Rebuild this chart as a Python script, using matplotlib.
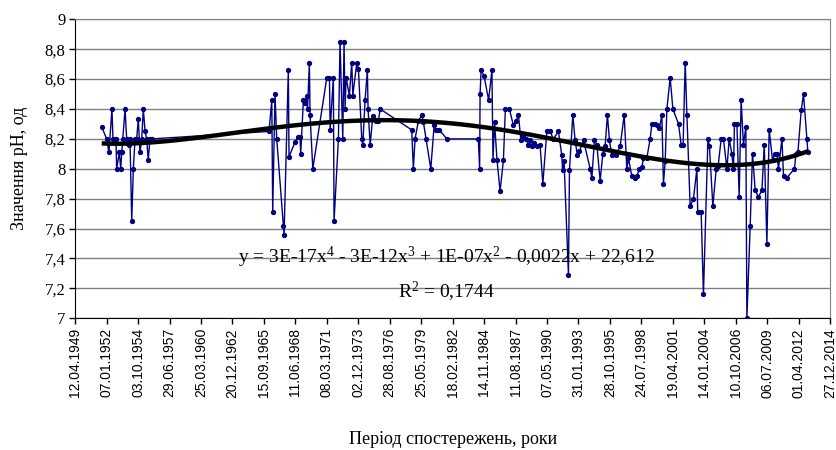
import numpy as np
import matplotlib
matplotlib.use('Agg')
import matplotlib.pyplot as plt
import matplotlib.dates as mdates
from datetime import datetime, timedelta

obs_year = [
    1951.59, 1952.02, 1952.22, 1952.48, 1952.57, 1952.83, 1952.89, 1953.12, 1953.24, 1953.33,
    1953.42, 1953.62, 1953.76, 1953.99, 1954.05, 1954.20, 1954.34, 1954.49, 1954.63, 1954.77,
    1954.92, 1955.07, 1955.21, 1955.36, 1955.50, 1955.64, 1955.79, 1955.94,
    1966.15, 1966.39, 1966.47, 1966.67, 1966.82, 1967.40, 1967.46, 1967.83, 1967.89, 1968.42,
    1968.68, 1968.85, 1968.91, 1969.14, 1969.29, 1969.43, 1969.50, 1969.66, 1969.72, 1969.96,
    1971.18, 1971.41, 1971.47, 1971.75, 1971.81, 1972.19, 1972.33, 1972.57, 1972.68, 1972.77,
    1972.86, 1973.14, 1973.35, 1973.44, 1973.79, 1973.93, 1974.22, 1974.31, 1974.51, 1974.71,
    1974.77, 1974.95, 1975.18, 1975.47, 1975.67, 1975.82,
    1978.57, 1978.71, 1978.86, 1979.15, 1979.45, 1979.59, 1979.82, 1980.23, 1980.52, 1980.69,
    1980.98, 1981.62, 1984.37, 1984.48, 1984.52, 1984.61, 1984.87, 1985.26, 1985.55, 1985.64,
    1985.78, 1985.99, 1986.26, 1986.55, 1986.72,
    1987.07, 1987.42, 1987.66, 1987.86, 1988.07, 1988.29, 1988.53, 1988.73, 1988.87, 1989.02,
    1989.22, 1989.46, 1989.74, 1989.98, 1990.33, 1990.61, 1990.90, 1991.34, 1991.63, 1991.70,
    1991.83, 1992.21, 1992.30, 1992.59, 1992.79, 1992.99, 1993.17, 1993.52, 1994.10, 1994.25,
    1994.47, 1994.68, 1994.97, 1995.20, 1995.40, 1995.60, 1995.78, 1995.99, 1996.36, 1996.71,
    1997.06,
    1997.29, 1997.43, 1997.73, 1998.02, 1998.16, 1998.39, 1998.60, 1998.74, 1999.03, 1999.32,
    1999.47, 1999.76, 1999.91, 2000.13, 2000.34, 2000.48, 2000.63, 2000.78, 2001.06, 2001.30,
    2001.79, 2002.02, 2002.19, 2002.37, 2002.52, 2002.80, 2003.09, 2003.39, 2003.46, 2003.76,
    2003.96, 2004.35, 2004.48, 2004.78, 2005.07, 2005.24, 2005.50,
    2005.70, 2006.00, 2006.20, 2006.43, 2006.57, 2006.66, 2006.87, 2007.07, 2007.24, 2007.44,
    2007.65, 2007.74, 2008.03, 2008.23, 2008.46, 2008.75, 2009.05, 2009.25, 2009.48, 2009.68,
    2009.97, 2010.20, 2010.35, 2010.49, 2010.79, 2010.93, 2011.22, 2011.88, 2012.01, 2012.18,
    2012.47, 2012.67, 2012.96, 2013.05,
]
obs_ph = [
    8.28, 8.20, 8.11, 8.40, 8.20, 8.20, 8.00, 8.11, 8.00, 8.11,
    8.20, 8.40, 8.20, 8.16, 8.20, 7.65, 8.00, 8.20, 8.20, 8.33,
    8.11, 8.20, 8.40, 8.25, 8.20, 8.06, 8.20, 8.20,
    8.25, 8.46, 7.71, 8.50, 8.20, 7.62, 7.56, 8.66, 8.08, 8.18,
    8.21, 8.21, 8.10, 8.46, 8.44, 8.49, 8.40, 8.71, 8.36, 8.00,
    8.61, 8.61, 8.26, 8.61, 7.65, 8.20, 8.85, 8.20, 8.85, 8.40,
    8.61, 8.49, 8.71, 8.49, 8.71, 8.67, 8.20, 8.16, 8.46, 8.66,
    8.40, 8.16, 8.35, 8.32, 8.32, 8.40,
    8.26, 8.00, 8.20, 8.32, 8.36, 8.31, 8.20, 8.00, 8.29, 8.26,
    8.26, 8.20, 8.20, 8.00, 8.50, 8.66, 8.62, 8.46, 8.66, 8.06,
    8.31, 8.06, 7.85, 8.06, 8.40,
    8.40, 8.29, 8.32, 8.36, 8.19, 8.22, 8.20, 8.16, 8.19, 8.15,
    8.17, 8.15, 8.16, 7.90, 8.25, 8.25, 8.20, 8.25, 8.09, 7.99,
    8.05, 7.29, 7.99, 8.36, 8.19, 8.09, 8.12, 8.19, 8.00, 7.94,
    8.19, 8.16, 7.92, 8.10, 8.15, 8.36, 8.19, 8.09, 8.09, 8.15,
    8.36,
    8.00, 8.07, 7.95, 7.94, 7.95, 8.00, 8.01, 8.07, 8.07, 8.20,
    8.30, 8.30, 8.29, 8.27, 8.36, 7.90, 8.05, 8.40, 8.61, 8.40,
    8.30, 8.16, 8.16, 8.71, 8.36, 7.75, 7.80, 8.00, 7.71, 7.71,
    7.16, 8.20, 8.15, 7.75, 8.00, 8.02, 8.20,
    8.20, 8.00, 8.20, 8.10, 8.00, 8.30, 8.30, 7.81, 8.46, 8.16,
    8.28, 7.00, 7.62, 8.10, 7.86, 7.81, 7.86, 8.16, 7.50, 8.26,
    8.06, 8.10, 8.10, 8.00, 8.20, 7.95, 7.94, 8.00, 8.10, 8.11,
    8.39, 8.50, 8.20, 8.11,
]

# Polynomial trend line
trend_year = [1951.6, 1954.0, 1956.8, 1963.6, 1965.4, 1969.4, 1973.2, 1977.6, 1979.7,
              1984.5, 1989.1, 1993.2, 1997.3, 2001.9, 2007.2, 2010.9, 2013.1]
trend_ph = [8.17, 8.165, 8.19, 8.24, 8.265, 8.29, 8.32, 8.33, 8.33,
            8.28, 8.21, 8.17, 8.10, 8.04, 8.025, 8.08, 8.11]

equation = 'y = 3E-17x$^{4}$ - 3E-12x$^{3}$ + 1E-07x$^{2}$ - 0,0022x + 22,612'
r2_text = 'R$^{2}$ = 0,1744'


def to_date(y):
    yr = int(y)
    return datetime(yr, 1, 1) + timedelta(days=(y - yr) * 365.25)


plt.rcParams['font.family'] = 'Liberation Serif'
plt.rcParams['mathtext.fontset'] = 'custom'
plt.rcParams['mathtext.rm'] = 'Liberation Serif'
plt.rcParams['mathtext.default'] = 'rm'

fig = plt.figure(figsize=(8.37, 4.5), dpi=100)
ax = fig.add_axes([0.0898, 0.2927, 0.9020, 0.6644])

obs_dates = [to_date(y) for y in obs_year]
ax.plot(obs_dates, obs_ph, color='#000080', lw=1.0, marker='o', ms=2.8,
        mfc='#000080', mec='#000080', zorder=3)

# smooth 4th degree polynomial through the trend readings
coef = np.polyfit(trend_year, trend_ph, 4)
ty = np.linspace(obs_year[0], obs_year[-1], 300)
ax.plot([to_date(y) for y in ty], np.polyval(coef, ty), color='black', lw=3.2, zorder=4,
        solid_capstyle='butt')

# axes
start = datetime(1949, 4, 12)
ticks = [start + timedelta(days=1000 * i) for i in range(25)]
ax.set_xlim(ticks[0], ticks[-1])
ax.set_xticks(ticks)
ax.xaxis.set_major_formatter(mdates.DateFormatter('%d.%m.%Y'))
for lab in ax.get_xticklabels():
    lab.set_rotation(90)
    lab.set_fontfamily('Liberation Sans')
    lab.set_fontsize(10)

yt = np.round(np.arange(7.0, 9.01, 0.2), 1)
ax.set_ylim(7, 9)
ax.set_yticks(yt)
ax.set_yticklabels([('%g' % v).replace('.', ',') for v in yt], fontsize=12)

ax.grid(axis='y', color='#808080', lw=1)
ax.set_axisbelow(True)
ax.tick_params(axis='both', direction='out', length=4, width=1, color='black', pad=3)
for s in ['left', 'bottom']:
    ax.spines[s].set_color('black')
for s in ['top', 'right']:
    ax.spines[s].set_color('#808080')

ax.set_ylabel('Значення pH, од', fontsize=13)
ax.yaxis.set_label_coords(-0.074, 0.5)
ax.yaxis.label.set_va('center')
ax.set_xlabel('Період спостережень, роки', fontsize=13)
ax.xaxis.set_label_coords(0.5, -0.407)
ax.xaxis.label.set_va('center')

ax.text(0.492, 0.205, equation, transform=ax.transAxes, ha='center', va='center',
        fontsize=14, zorder=5)
ax.text(0.492, 0.088, r2_text, transform=ax.transAxes, ha='center', va='center',
        fontsize=14, zorder=5)

fig.savefig('out.png', dpi=100)
